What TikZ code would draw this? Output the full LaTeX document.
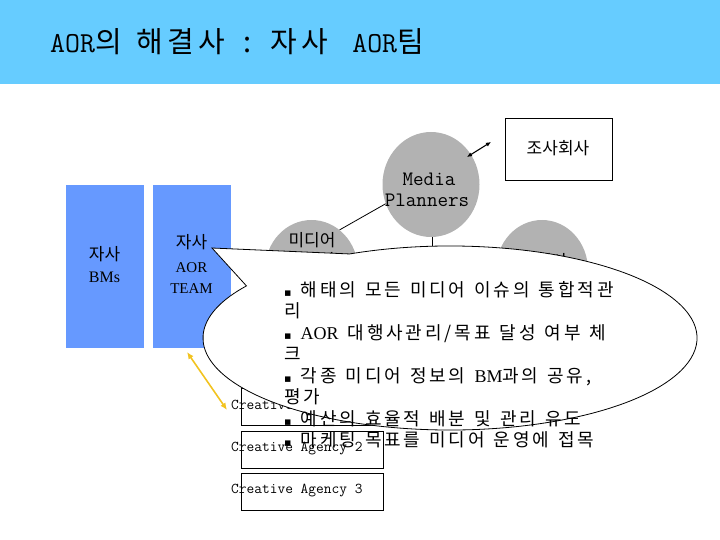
\documentclass[tikz,border=0pt]{standalone}
\usepackage{fontspec}
\newfontfamily\KR{Noto Sans CJK KR}
\newfontfamily\KRW{Noto Sans CJK KR}[LetterSpace=16]
\newfontfamily\KRT{Noto Sans CJK KR}[LetterSpace=14]
\newfontfamily\MONO{Latin Modern Mono}
\newfontfamily\SERIF{Liberation Serif}
\newfontfamily\DJV{DejaVu Sans}
\usetikzlibrary{arrows.meta,calc,shapes.geometric}
\definecolor{band}{HTML}{66CCFF}
\definecolor{rectblue}{HTML}{6699FF}
\definecolor{circgray}{HTML}{B2B2B2}
\definecolor{arrowyellow}{HTML}{F2C320}
\newcommand\ksp{\hspace{0.5em}}
\newcommand\kbul{{\DJV\fontsize{11}{11}\selectfont ▪}}
\newcommand\wideword{\spaceskip 0.5em\relax}
\newcommand\clfont{\KRW\fontsize{18}{18}\selectfont\wideword}
\newcommand\tmono[1]{{\MONO\fontsize{29}{29}\selectfont #1}}
\tikzset{
  bluerect/.style={fill=rectblue, draw=none, minimum width=78, minimum height=163, inner sep=0},
  grayell/.style={ellipse, fill=circgray, draw=none, inner sep=0},
  txt/.style={inner sep=0, font=\KR\fontsize{17}{17}\selectfont},
  sertxt/.style={inner sep=0, font=\SERIF\fontsize{15}{15}\selectfont},
  monotxt/.style={inner sep=0, font=\MONO\fontsize{20.5}{20.5}\selectfont},
  cabox/.style={draw=black, line width=0.8pt, minimum width=142, minimum height=37, inner sep=0},
  catext/.style={inner sep=0, anchor=west, font=\MONO\fontsize{15}{15}\selectfont},
  thinline/.style={draw=black, line width=0.8pt},
  blkarrow/.style={line width=1.1pt, {Latex[length=5pt,width=4.5pt]}-{Latex[length=5pt,width=4.5pt]}},
  yarrow/.style={draw=arrowyellow, line width=1.6pt, {Latex[length=7pt,width=6pt]}-{Latex[length=7pt,width=6pt]}},
  callout/.style={fill=white, draw=black, line width=0.8pt},
  cltext/.style={inner sep=0, anchor=base west, font=\clfont}
}
\begin{document}
\begin{tikzpicture}[x=1pt,y=-1pt]
\useasboundingbox (0,0) rectangle (720,540);
% header band
\fill[band] (0,0) rectangle (720,84);
\node[anchor=base west, inner sep=0, font=\KRT\fontsize{29}{29}\selectfont] (title) at (50,53)
  {\tmono{AOR}의\hspace{15pt}해결사\hspace{19pt}:\hspace{19pt}자사\hspace{24pt}\tmono{AOR}팀};

% blue rectangles
\node[bluerect] (bm) at (105,266.5) {};
\node[bluerect] (team) at (192,266.5) {};
\node[txt] (bm1) at (104.5,254) {자사};
\node[sertxt, font=\SERIF\fontsize{16}{16}\selectfont] (bm2) at (104.5,277) {BMs};
\node[txt] (tm1) at (191.5,242.5) {자사};
\node[sertxt] (tm2) at (191.5,268) {AOR};
\node[sertxt] (tm3) at (191.5,288.5) {TEAM};

% gray circles
\node[grayell, minimum width=97, minimum height=105] (mp) at (431,184.5) {};
\node[monotxt] (mp1) at (429,179) {Media};
\node[monotxt] (mp2) at (427,200) {Planners};
\node[grayell, minimum width=93, minimum height=100] (md) at (311.5,270) {};
\node[txt] (md1) at (312,240) {미디어};
\node[txt] (md2) at (312,260) {대행사};
\node[grayell, minimum width=92, minimum height=100] (rc) at (542,270) {};
\node[txt] (rc1) at (544,261) {매체사};

% connectors
\draw[thinline] (mp.203) -- (md.55);
\coordinate (vl) at (432,250);
\draw[thinline] (mp.south -| vl) -- (vl);

% research company box
\node[draw=black, line width=0.8pt, minimum width=107, minimum height=62, inner sep=0] (jh) at (558.5,149) {};
\node[txt] (jht) at (558,148) {조사회사};
\coordinate (a1) at (467,157);
\coordinate (a2) at (491,142);
\draw[blkarrow] (a1) -- (a2);

% creative agency boxes
\node[cabox] (ca1) at (312,406.5) {};
\node[cabox] (ca2) at (312,449.5) {};
\node[cabox] (ca3) at (312,491.5) {};
\node[catext] (ca1t) at (231,407) {Creative Agency 1};
\node[catext] (ca2t) at (231,449) {Creative Agency 2};
\node[catext] (ca3t) at (231,491) {Creative Agency 3};

% yellow arrow
\coordinate (y1) at (187,352);
\coordinate (y2) at (227,410);
\draw[yarrow] (y1) -- (y2);

% callout
\coordinate (tip) at (212,248);
\coordinate (ec) at (450,338);
\path[callout] (tip) -- ($(ec)+(246:247 and 92)$) arc[start angle=246, end angle=574.5, x radius=247, y radius=92] -- cycle;

\node[cltext] (c1) at (284,296) {\kbul\ksp 해태의 모든 미디어 이슈의 통합적관};
\node[cltext] (c2) at (284,317.5) {리};
\node[cltext] (c3) at (284,339) {\kbul\ksp {\SERIF AOR} 대행사관리/목표 달성 여부 체};
\node[cltext] (c4) at (284,360.5) {크};
\node[cltext] (c5) at (284,382) {\kbul\ksp 각종 미디어 정보의 {\SERIF BM}과의 공유,};
\node[cltext] (c6) at (284,403.5) {평가};
\node[cltext] (c7) at (284,425) {\kbul\ksp 예산의 효율적 배분 및 관리 유도};
\node[cltext] (c8) at (284,446.5) {\kbul\ksp 마케팅 목표를 미디어 운영에 접목};
\end{tikzpicture}
\end{document}
